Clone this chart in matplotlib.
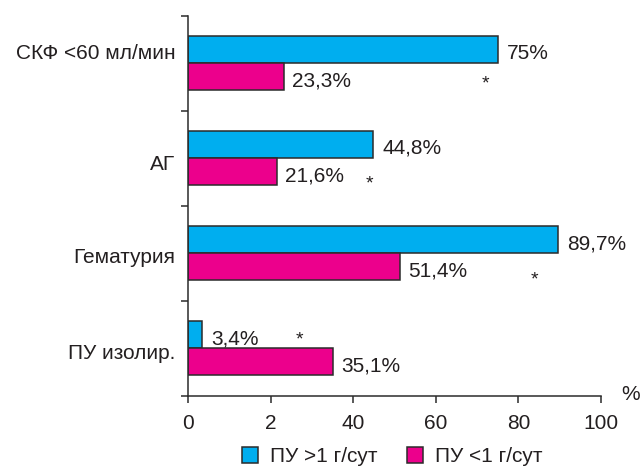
import matplotlib
matplotlib.use("Agg")
import matplotlib.pyplot as plt
from matplotlib.patches import Patch

plt.rcParams['font.family'] = ['Liberation Sans', 'DejaVu Sans']

# data
categories = ["СКФ <60 мл/мин", "АГ", "Гематурия", "ПУ изолир."]
pu_high = [75, 44.8, 89.7, 3.4]
pu_low = [23.3, 21.6, 51.4, 35.1]
high_labels = ["75%", "44,8%", "89,7%", "3,4%"]
low_labels = ["23,3%", "21,6%", "51,4%", "35,1%"]
series_names = ["ПУ >1 г/сут", "ПУ <1 г/сут"]
xtick_vals = [0, 20, 40, 60, 80, 100]
xtick_labels = ["0", "2", "40", "60", "80", "100"]
# category label heights (group units) as placed in the original
label_y = [0.38, 1.54, 2.52, 3.53]
# asterisk positions (x value, y in group units)
star_x = [72, 44, 84, 27]
star_y = [0.72, 1.77, 2.78, 3.41]

blue = "#00aeef"
magenta = "#ec008c"
edge = "#2b2b2b"
txt = "#231f20"

fig = plt.figure(figsize=(6.41, 4.67), dpi=100)
ax = fig.add_axes([0.2933, 0.1525, 0.6443, 0.8139])

h = 0.285
centers = [i + 0.5 for i in range(len(categories))]
ax.barh([c - h / 2 for c in centers], pu_high, height=h, color=blue,
        edgecolor=edge, linewidth=1.1)
ax.barh([c + h / 2 for c in centers], pu_low, height=h, color=magenta,
        edgecolor=edge, linewidth=1.1)

for c, v, s in zip(centers, pu_high, high_labels):
    ax.text(v + 2.2, c - h / 2 + 0.04, s, va='center', ha='left', fontsize=15, color=txt)
for c, v, s in zip(centers, pu_low, low_labels):
    ax.text(v + 2.0, c + h / 2 + 0.04, s, va='center', ha='left', fontsize=15, color=txt)
for x, y in zip(star_x, star_y):
    ax.text(x, y, "*", va='center', ha='center', fontsize=14, color=txt)

ax.set_xlim(0, 100)
ax.set_ylim(4, 0)
ax.set_xticks(xtick_vals)
ax.set_xticklabels(xtick_labels, fontsize=15, color=txt)
ax.set_yticks([0, 1, 2, 3, 4])
ax.set_yticklabels([])
ax.set_yticks(label_y, minor=True)
ax.set_yticklabels(categories, minor=True, fontsize=15, color=txt)
ax.tick_params(axis='y', which='minor', length=0, pad=9)
ax.tick_params(axis='y', which='major', length=5, width=1.1, color=edge)
ax.tick_params(axis='x', length=5, width=1.1, color=edge, pad=8)

for side in ['top', 'right']:
    ax.spines[side].set_visible(False)
for side in ['left', 'bottom']:
    ax.spines[side].set_color(edge)
    ax.spines[side].set_linewidth(1.1)

fig.text(0.983, 0.156, "%", ha='center', va='center', fontsize=15, color=txt)

handles = [Patch(facecolor=blue, edgecolor=edge, linewidth=1.1),
           Patch(facecolor=magenta, edgecolor=edge, linewidth=1.1)]
fig.legend(handles, series_names, loc='center', bbox_to_anchor=(0.612, 0.022),
           ncol=2, frameon=False, fontsize=15, handlelength=0.75, handleheight=0.75,
           handletextpad=0.6, columnspacing=1.4, labelcolor=txt,
           borderpad=0, borderaxespad=0)

fig.savefig("out.png", dpi=100)
